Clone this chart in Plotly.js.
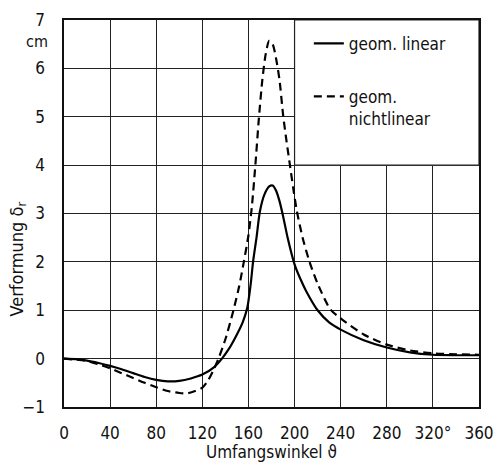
<!DOCTYPE html>
<html>
<head>
<meta charset="utf-8">
<script src="https://cdn.plot.ly/plotly-3.0.1.min.js"></script>
<style>
  html, body { margin: 0; padding: 0; background: #fff; }
  #chart { width: 502px; height: 464px; }
</style>
</head>
<body>
<div id="chart"></div>
<script>
// Umfangswinkel (degrees) and Verformung (cm)
const linearAngle = [0, 10, 20, 30, 40, 50, 60, 70, 80, 90, 100, 110, 120, 130, 137, 143, 150, 155, 159, 162, 164, 167, 170, 174, 178, 181, 184, 187, 190, 194, 200, 205, 210, 220, 230, 240, 260, 280, 300, 320, 340, 360];
const linearDefl  = [0, -0.01, -0.04, -0.09, -0.15, -0.22, -0.30, -0.38, -0.44, -0.47, -0.46, -0.41, -0.33, -0.18, 0.0, 0.2, 0.5, 0.75, 1.05, 1.55, 2.0, 2.5, 3.05, 3.4, 3.56, 3.58, 3.47, 3.25, 2.95, 2.5, 1.95, 1.65, 1.4, 1.0, 0.75, 0.6, 0.38, 0.23, 0.13, 0.08, 0.07, 0.07];

const nonlinAngle = [0, 10, 20, 30, 40, 50, 60, 70, 80, 90, 100, 105, 110, 120, 125, 130, 134, 140, 147, 152, 156, 160, 163, 166, 169, 172, 175, 178, 181, 184, 187, 190, 193, 196, 199, 202, 207, 213, 220, 231, 240, 260, 280, 300, 320, 340, 360];
const nonlinDefl  = [0, -0.02, -0.05, -0.12, -0.2, -0.3, -0.4, -0.5, -0.59, -0.67, -0.71, -0.72, -0.7, -0.6, -0.45, -0.22, 0.0, 0.4, 1.0, 1.5, 2.0, 2.55, 3.15, 4.0, 4.95, 5.75, 6.3, 6.57, 6.5, 6.2, 5.75, 5.05, 4.5, 4.0, 3.5, 3.05, 2.5, 2.0, 1.55, 1.02, 0.83, 0.5, 0.29, 0.17, 0.11, 0.09, 0.08];

const xTickVals = [0, 40, 80, 120, 160, 200, 240, 280, 320, 360];
const xTickText = ['0', '40', '80', '120', '160', '200', '240', '280', '320°', '360'];
const yTickVals = [-1, 0, 1, 2, 3, 4, 5, 6, 7];

const seriesNames = ['geom. linear', 'geom.<br>nichtlinear'];

const FONT = 'DejaVu Sans Condensed, DejaVu Sans, sans-serif';

const traces = [
  {
    x: linearAngle, y: linearDefl, type: 'scatter', mode: 'lines',
    name: seriesNames[0], legendgroup: 'a',
    line: { color: '#000', width: 2.2, shape: 'spline', smoothing: 0.7, dash: 'solid' }
  },
  {
    x: nonlinAngle, y: nonlinDefl, type: 'scatter', mode: 'lines',
    name: seriesNames[1], legendgroup: 'b',
    line: { color: '#000', width: 2.2, shape: 'spline', smoothing: 0.7, dash: '8px,5px' }
  }
];

const layout = {
  width: 502, height: 464,
  margin: { l: 64, r: 23, t: 20, b: 57 },
  paper_bgcolor: '#fff', plot_bgcolor: '#fff',
  font: { family: FONT, size: 16, color: '#111' },
  showlegend: true,
  legend: {
    x: 0.59, xanchor: 'left', y: 0.985, yanchor: 'top',
    bgcolor: 'rgba(0,0,0,0)', borderwidth: 0,
    font: { family: FONT, size: 17, color: '#111' },
    tracegroupgap: 28, valign: 'top', itemwidth: 30
  },
  xaxis: {
    range: [0, 360], tickmode: 'array', tickvals: xTickVals, ticktext: xTickText,
    showgrid: true, gridcolor: '#222', gridwidth: 1.2,
    showline: true, linecolor: '#111', linewidth: 1.6, mirror: true,
    ticks: '', zeroline: false, ticklabelstandoff: 10,
    tickfont: { family: FONT, size: 17, color: '#111' }
  },
  yaxis: {
    range: [-1, 7], tickmode: 'array', tickvals: yTickVals,
    showgrid: true, gridcolor: '#222', gridwidth: 1.2,
    showline: true, linecolor: '#111', linewidth: 1.6, mirror: true,
    ticks: '', zeroline: false, ticklabelstandoff: 14,
    tickfont: { family: FONT, size: 17, color: '#111' }
  },
  shapes: [
    { type: 'rect', xref: 'x', yref: 'y', x0: 200, x1: 360, y0: 4, y1: 7,
      fillcolor: '#fff', line: { color: '#222', width: 1.2 }, layer: 'above' }
  ],
  annotations: [
    { text: 'cm', xref: 'paper', yref: 'y', x: 0, y: 6.55, xanchor: 'right', yanchor: 'middle',
      xshift: -14, showarrow: false, font: { family: FONT, size: 16, color: '#111' } },
    { text: 'Verformung δ<sub>r</sub>', xref: 'paper', yref: 'y', x: 0, y: 2.05, textangle: -90,
      xanchor: 'center', yanchor: 'middle', xshift: -46, showarrow: false,
      font: { family: FONT, size: 18, color: '#111' } },
    { text: 'Umfangswinkel ϑ', xref: 'paper', yref: 'paper', x: 0.5, y: 0, xanchor: 'center',
      yanchor: 'middle', yshift: -45, showarrow: false, borderpad: 0,
      font: { family: FONT, size: 17, color: '#111' } }
  ]
};

Plotly.newPlot('chart', traces, layout, { staticPlot: true, displayModeBar: false });
</script>
</body>
</html>
